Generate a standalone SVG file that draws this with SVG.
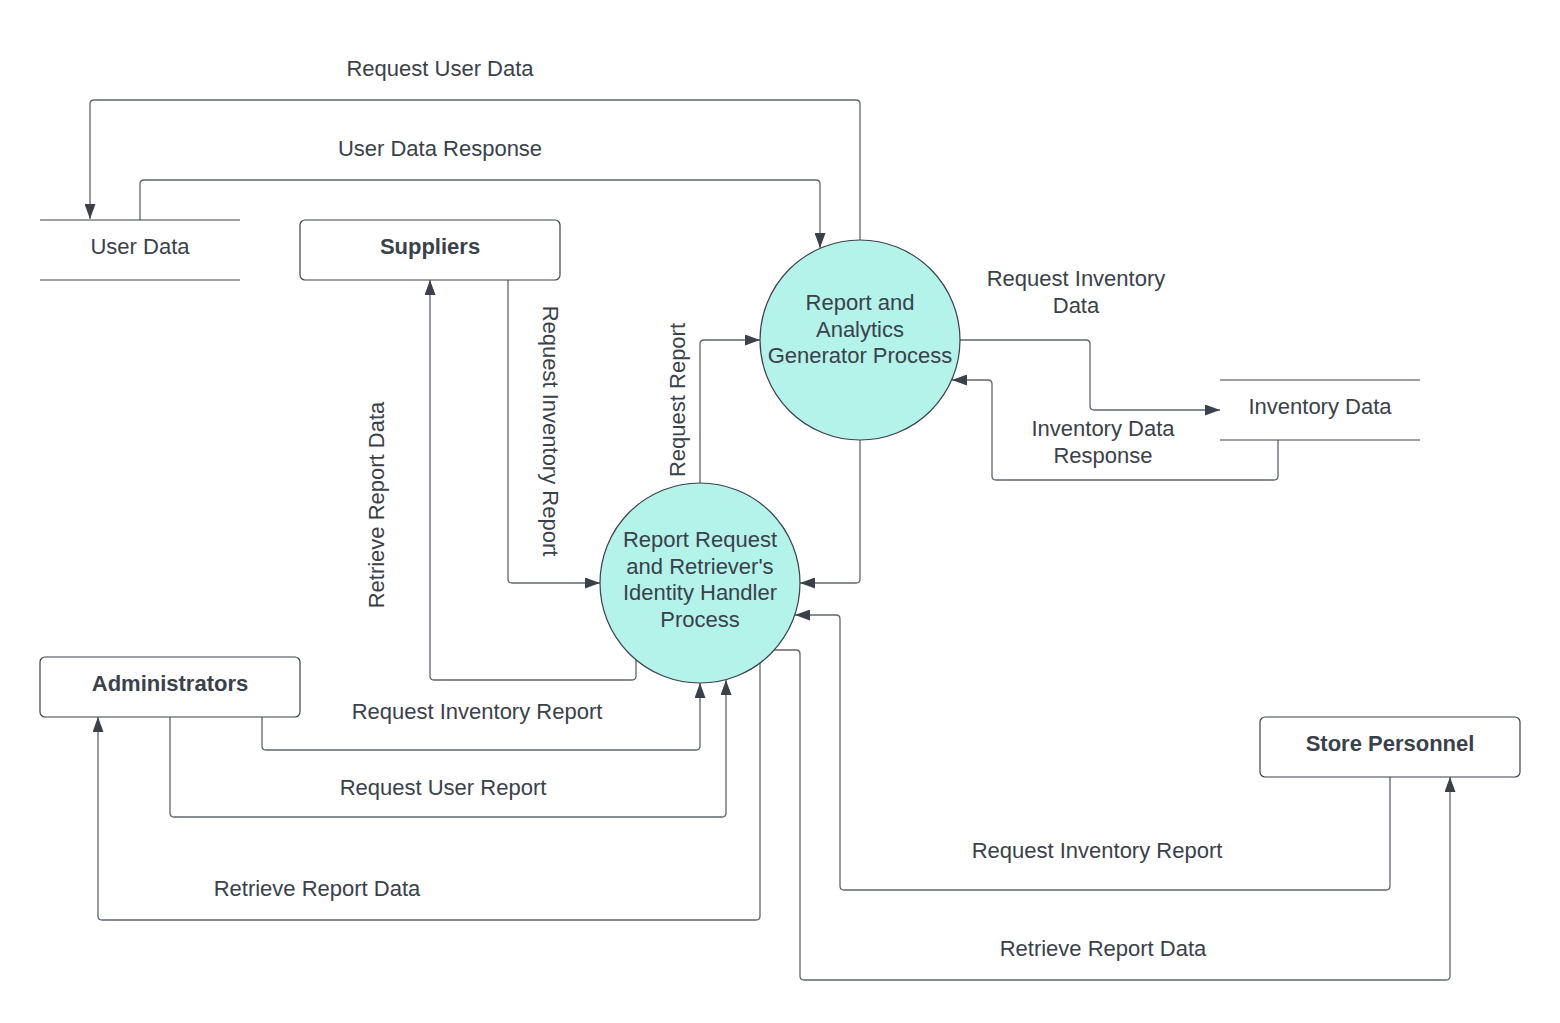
<svg xmlns="http://www.w3.org/2000/svg" width="1560" height="1023" viewBox="0 0 1560 1023">
<style>
text{font-family:"Liberation Sans",Arial,sans-serif;font-size:22px;fill:#3a414a;text-anchor:middle}
.b{font-weight:bold}
.box{fill:#fff;stroke:#3a414a;stroke-width:1.2}
.store{stroke:#3a414a;stroke-width:1.2}
.proc{fill:#b3f3ea;stroke:#3a414a;stroke-width:1.2}
.c{fill:none;stroke:#60666f;stroke-width:1.3}
.a{marker-end:url(#arr)}
</style>
<defs>
<marker id="arr" viewBox="0 0 15 11" refX="15" refY="5.5" markerWidth="15" markerHeight="11" markerUnits="userSpaceOnUse" orient="auto">
<path d="M0,0 L15,5.5 L0,11 Z" fill="#3a414a"/>
</marker>
</defs>
<rect width="1560" height="1023" fill="#fff"/>
<g id="connectors">
<path class="c a" d="M860,240 V104 Q860,100 856,100 H94 Q90,100 90,104 V219"/>
<path class="c a" d="M140,220 V184 Q140,180 144,180 H816 Q820,180 820,184 V248"/>
<path class="c a" d="M700,483 V344 Q700,340 704,340 H760"/>
<path class="c a" d="M960,340 H1086 Q1090,340 1090,344 V406 Q1090,410 1094,410 H1220"/>
<path class="c a" d="M1278,440 V476 Q1278,480 1274,480 H996 Q992,480 992,476 V384 Q992,380 988,380 H952"/>
<path class="c a" d="M860,440 V579 Q860,583 856,583 H800"/>
<path class="c a" d="M508,280 V579 Q508,583 512,583 H600"/>
<path class="c a" d="M636,660 V676 Q636,680 632,680 H434 Q430,680 430,676 V280"/>
<path class="c a" d="M262,717 V746 Q262,750 266,750 H696 Q700,750 700,746 V683"/>
<path class="c a" d="M170,717 V813 Q170,817 174,817 H722 Q726,817 726,813 V680"/>
<path class="c a" d="M760,663 V916 Q760,920 756,920 H102 Q98,920 98,916 V717"/>
<path class="c a" d="M774,650 H796 Q800,650 800,654 V976 Q800,980 804,980 H1446 Q1450,980 1450,976 V777"/>
<path class="c a" d="M1390,777 V886 Q1390,890 1386,890 H844 Q840,890 840,886 V619 Q840,615 836,615 H795"/>
<text x="440" y="76">Request User Data</text>
<text x="440" y="156">User Data Response</text>
<text x="685" y="400" transform="rotate(-90 685 400)">Request Report</text>
<text x="543" y="431" transform="rotate(90 543 431)">Request Inventory Report</text>
<text x="384" y="505" transform="rotate(-90 384 505)">Retrieve Report Data</text>
<text x="1076" y="286">Request Inventory</text>
<text x="1076" y="313">Data</text>
<text x="1103" y="436">Inventory Data</text>
<text x="1103" y="463">Response</text>
<text x="477" y="719">Request Inventory Report</text>
<text x="443" y="795">Request User Report</text>
<text x="317" y="896">Retrieve Report Data</text>
<text x="1097" y="858">Request Inventory Report</text>
<text x="1103" y="956">Retrieve Report Data</text>
</g>
<g id="user-data">
<line class="store" x1="40" y1="220" x2="240" y2="220"/>
<line class="store" x1="40" y1="280" x2="240" y2="280"/>
<text x="140" y="254">User Data</text>
</g>
<g id="suppliers">
<rect class="box" x="300" y="220" width="260" height="60" rx="5"/>
<text class="b" x="430" y="254">Suppliers</text>
</g>
<g id="report-analytics">
<circle class="proc" cx="860" cy="340" r="100"/>
<text x="860" y="310">Report and</text>
<text x="860" y="337">Analytics</text>
<text x="860" y="363">Generator Process</text>
</g>
<g id="inventory-data">
<line class="store" x1="1220" y1="380" x2="1420" y2="380"/>
<line class="store" x1="1220" y1="440" x2="1420" y2="440"/>
<text x="1320" y="414">Inventory Data</text>
</g>
<g id="report-request">
<circle class="proc" cx="700" cy="583" r="100"/>
<text x="700" y="547">Report Request</text>
<text x="700" y="574">and Retriever's</text>
<text x="700" y="600">Identity Handler</text>
<text x="700" y="627">Process</text>
</g>
<g id="administrators">
<rect class="box" x="40" y="657" width="260" height="60" rx="5"/>
<text class="b" x="170" y="691">Administrators</text>
</g>
<g id="store-personnel">
<rect class="box" x="1260" y="717" width="260" height="60" rx="5"/>
<text class="b" x="1390" y="751">Store Personnel</text>
</g>
</svg>
